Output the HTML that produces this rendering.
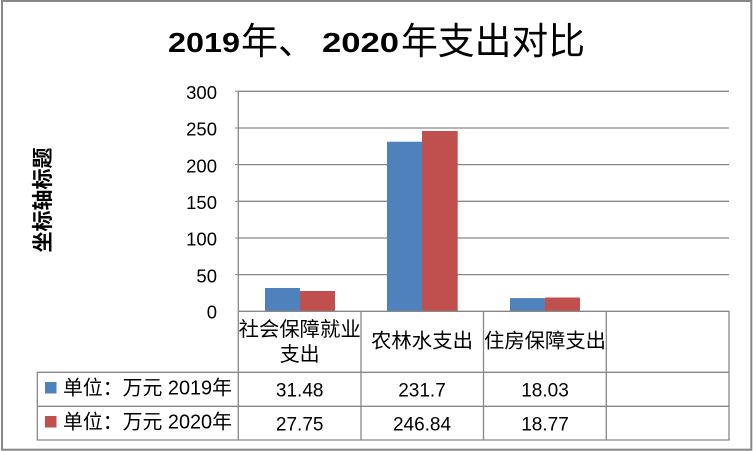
<!DOCTYPE html>
<html><head><meta charset="utf-8"><style>
html,body{margin:0;padding:0;background:#fff;}
svg{display:block;}
text{font-family:"Liberation Sans","Noto Sans CJK SC",sans-serif;fill:#000;}
</style></head><body>
<svg width="753" height="451" viewBox="0 0 753 451" xmlns="http://www.w3.org/2000/svg">
<rect x="0" y="0" width="753" height="451" fill="#fff"/>
<rect x="2" y="1" width="749.3" height="448.7" fill="none" stroke="#878787" stroke-width="2"/>

<!-- title -->
<text x="168" y="52" font-size="28" font-weight="bold" textLength="72" lengthAdjust="spacingAndGlyphs">2019</text>
<text x="241" y="54" font-size="37" textLength="74" lengthAdjust="spacingAndGlyphs">年、</text>
<text x="322" y="52" font-size="28" font-weight="bold" textLength="77" lengthAdjust="spacingAndGlyphs">2020</text>
<text x="401" y="54" font-size="37" textLength="184" lengthAdjust="spacingAndGlyphs">年支出对比</text>

<!-- y axis title -->
<text transform="translate(50,200) rotate(-90)" text-anchor="middle" font-size="21" font-weight="bold" textLength="105" lengthAdjust="spacingAndGlyphs">坐标轴标题</text>

<!-- gridlines -->
<g stroke="#878787" stroke-width="1.3">
<line x1="238" y1="91.3" x2="729" y2="91.3"/>
<line x1="238" y1="128" x2="729" y2="128"/>
<line x1="238" y1="164.6" x2="729" y2="164.6"/>
<line x1="238" y1="201.3" x2="729" y2="201.3"/>
<line x1="238" y1="238" x2="729" y2="238"/>
<line x1="238" y1="274.6" x2="729" y2="274.6"/>
</g>

<!-- y labels -->
<g font-size="18.5" text-anchor="end">
<text x="217" y="99">300</text>
<text x="217" y="135.7">250</text>
<text x="217" y="172.3">200</text>
<text x="217" y="209">150</text>
<text x="217" y="245.7">100</text>
<text x="217" y="282.3">50</text>
<text x="217" y="318.7">0</text>
</g>

<!-- bars -->
<g fill="#4F81BD">
<rect x="265" y="288" width="35" height="23.3"/>
<rect x="387" y="141.7" width="35" height="169.6"/>
<rect x="510" y="298.1" width="35" height="13.2"/>
</g>
<g fill="#C0504D">
<rect x="300" y="291" width="35" height="20.3"/>
<rect x="422" y="131" width="35.7" height="180.3"/>
<rect x="545" y="297.5" width="35" height="13.8"/>
</g>

<!-- table lines -->
<g stroke="#878787" stroke-width="1.3">
<line x1="238.3" y1="91" x2="238.3" y2="440.5"/>
<line x1="238" y1="311.3" x2="729.5" y2="311.3"/>
<line x1="37" y1="372.3" x2="729.5" y2="372.3"/>
<line x1="37" y1="406.3" x2="729.5" y2="406.3"/>
<line x1="37" y1="440" x2="729.5" y2="440"/>
<line x1="37.3" y1="372" x2="37.3" y2="440.5"/>
<line x1="361" y1="311" x2="361" y2="440.5"/>
<line x1="483.5" y1="311" x2="483.5" y2="440.5"/>
<line x1="606.3" y1="311" x2="606.3" y2="440.5"/>
<line x1="729" y1="311" x2="729" y2="440.5"/>
</g>
<!-- small ticks -->
<g stroke="#878787" stroke-width="1">
<line x1="235" y1="91.3" x2="238" y2="91.3"/>
<line x1="235" y1="128" x2="238" y2="128"/>
<line x1="235" y1="164.6" x2="238" y2="164.6"/>
<line x1="235" y1="201.3" x2="238" y2="201.3"/>
<line x1="235" y1="238" x2="238" y2="238"/>
<line x1="235" y1="274.6" x2="238" y2="274.6"/>
</g>

<!-- category labels -->
<g font-size="20" text-anchor="middle">
<text x="299.7" y="336" textLength="122" lengthAdjust="spacingAndGlyphs">社会保障就业</text>
<text x="299.7" y="361">支出</text>
<text x="422" y="347.5" textLength="102" lengthAdjust="spacingAndGlyphs">农林水支出</text>
<text x="545" y="347.5" textLength="122" lengthAdjust="spacingAndGlyphs">住房保障支出</text>
</g>

<!-- legend keys -->
<rect x="45" y="382" width="11.5" height="11.5" fill="#4F81BD"/>
<rect x="45" y="416" width="11.5" height="11.5" fill="#C0504D"/>
<text x="63" y="394.5" font-size="20" textLength="169" lengthAdjust="spacingAndGlyphs">单位：万元 2019年</text>
<text x="63" y="428.5" font-size="20" textLength="169" lengthAdjust="spacingAndGlyphs">单位：万元 2020年</text>

<!-- values -->
<g font-size="19" text-anchor="middle">
<text x="299.7" y="396.7">31.48</text>
<text x="422" y="396.7">231.7</text>
<text x="545" y="396.7">18.03</text>
<text x="299.7" y="430.3">27.75</text>
<text x="422" y="430.3">246.84</text>
<text x="545" y="430.3">18.77</text>
</g>
</svg>
</body></html>
